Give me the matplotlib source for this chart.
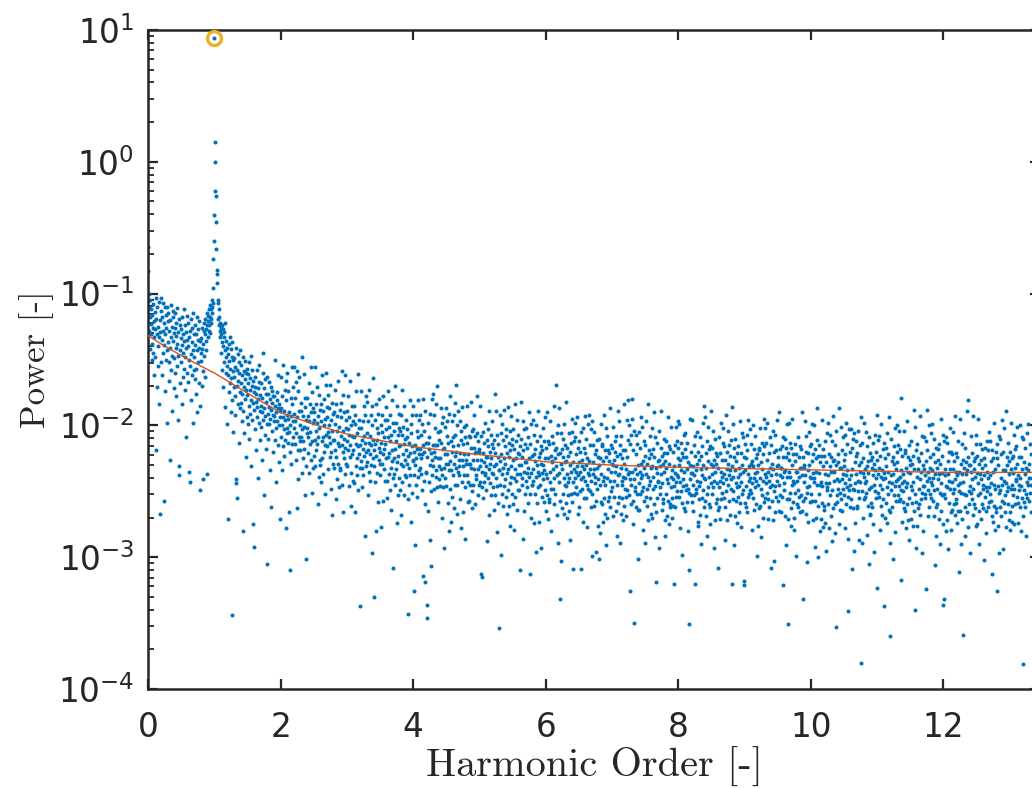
import numpy as np
import matplotlib
matplotlib.use("Agg")
import matplotlib.pyplot as plt
from matplotlib.ticker import LogLocator, NullFormatter, FixedLocator

# ---------------- data ----------------
# spectrum sampled every `harmonic_step` harmonic orders, starting at 0
harmonic_step = 0.005
# power in centi-decades below 1 :  power = 10 ** (-value / 100)
power_cdec = [
    65, 83, 100, 110, 128, 105, 118, 142, 123, 112, 131, 150, 116, 138, 126, 108, 145, 121, 162, 133,
    114, 127, 148, 103, 219, 119, 171, 131, 110, 155, 125, 140, 106, 133, 184, 120, 267, 129, 113, 152,
    103, 135, 118, 162, 107, 128, 145, 122, 257, 139, 110, 174, 131, 150, 116, 126, 198, 110, 143, 121,
    137, 115, 152, 128, 166, 120, 226, 141, 109, 133, 158, 125, 147, 189, 118, 136, 113, 172, 130, 149,
    126, 160, 115, 141, 178, 132, 122, 155, 138, 111, 147, 129, 196, 119, 231, 238, 143, 124, 168, 134,
    152, 127, 139, 184, 118, 163, 131, 145, 112, 157, 136, 173, 124, 148, 209, 129, 141, 117, 160, 135,
    140, 122, 167, 133, 235, 150, 243, 128, 155, 181, 119, 146, 137, 162, 126, 198, 143, 115, 158, 131,
    148, 165, 124, 139, 176, 131, 157, 118, 143, 190, 135, 152, 127, 168, 141, 121, 185, 136, 249, 145,
    151, 134, 170, 142, 126, 159, 241, 138, 128, 147, 122, 163, 131, 119, 143, 127, 136, 115, 237, 124,
    121, 133, 117, 128, 112, 124, 118, 130, 109, 122, 112, 119, 105, 115, 110, 107, 96, 74, 60, 40,
    -94, -15, 0, 22, 26, 46, 66, 82, 85, 92, 105, 107, 119, 112, 124, 118, 128, 122, 133, 126,
    131, 145, 124, 158, 137, 127, 171, 140, 133, 152, 129, 186, 143, 122, 160, 148, 136, 199, 141, 155,
    146, 162, 271, 138, 175, 151, 133, 168, 157, 190, 142, 164, 148, 181, 344, 137, 159, 205, 150, 171,
    163, 149, 178, 156, 192, 141, 244, 241, 170, 158, 255, 146, 184, 166, 152, 213, 160, 175, 143, 187,
    168, 183, 154, 197, 162, 176, 148, 189, 280, 171, 159, 206, 165, 180, 151, 224, 173, 160, 194, 157,
    177, 161, 199, 168, 185, 152, 210, 173, 164, 191, 147, 181, 231, 170, 158, 196, 183, 166, 275, 175,
    292, 188, 171, 203, 163, 182, 219, 176, 194, 158, 186, 172, 240, 180, 167, 198, 154, 189, 211, 177,
    185, 201, 168, 190, 226, 179, 160, 196, 145, 172, 253, 187, 165, 207, 193, 176, 218, 182, 163, 199,
    305, 191, 176, 210, 186, 167, 199, 234, 180, 195, 171, 188, 262, 183, 204, 174, 192, 220, 178, 197,
    193, 178, 211, 185, 150, 202, 190, 243, 181, 197, 175, 215, 187, 162, 200, 228, 184, 194, 271, 189,
    209, 187, 163, 200, 234, 178, 216, 194, 154, 203, 189, 223, 173, 196, 211, 181, 278, 166, 206, 192,
    202, 160, 213, 195, 174, 266, 190, 205, 310, 220, 200, 179, 229, 193, 214, 156, 184, 209, 197, 171,
    191, 202, 156, 214, 197, 179, 226, 167, 206, 263, 159, 194, 219, 174, 241, 189, 209, 163, 200, 212,
    219, 189, 209, 183, 236, 203, 148, 225, 193, 212, 161, 201, 218, 179, 253, 186, 196, 231, 301, 206,
    202, 179, 221, 193, 209, 168, 236, 197, 184, 214, 205, 156, 226, 190, 251, 212, 175, 198, 232, 187,
    196, 223, 190, 211, 231, 156, 204, 184, 219, 198, 214, 171, 260, 193, 209, 239, 177, 202, 188, 226,
    230, 184, 243, 197, 212, 162, 225, 209, 189, 237, 200, 180, 220, 252, 195, 215, 169, 207, 160, 186,
    194, 216, 177, 205, 233, 187, 209, 200, 224, 169, 213, 248, 196, 220, 183, 204, 268, 191, 229, 211,
    190, 232, 211, 173, 219, 199, 256, 224, 184, 204, 241, 193, 213, 229, 166, 216, 201, 247, 188, 234,
    232, 194, 208, 183, 245, 215, 159, 266, 177, 220, 204, 225, 190, 210, 162, 237, 217, 196, 229, 202,
    212, 189, 231, 203, 219, 178, 246, 207, 194, 224, 215, 166, 236, 200, 261, 222, 185, 208, 242, 197,
    219, 185, 244, 209, 199, 266, 192, 231, 214, 174, 225, 206, 238, 161, 216, 249, 196, 222, 202, 232,
    337, 215, 227, 202, 174, 232, 211, 247, 197, 218, 238, 185, 223, 208, 284, 192, 213, 231, 178, 220,
    228, 206, 182, 219, 253, 197, 235, 213, 173, 222, 208, 242, 192, 215, 230, 200, 297, 185, 225, 211,
    164, 219, 330, 231, 214, 196, 243, 184, 223, 280, 202, 211, 236, 191, 258, 206, 226, 180, 217, 229,
    220, 238, 200, 277, 213, 192, 229, 205, 257, 222, 178, 233, 209, 218, 196, 242, 214, 186, 225, 203,
    242, 196, 255, 209, 224, 174, 237, 221, 201, 249, 212, 192, 232, 264, 207, 227, 181, 219, 240, 198,
    308, 237, 204, 225, 245, 170, 218, 198, 233, 212, 228, 185, 274, 207, 223, 253, 191, 216, 202, 240,
    204, 249, 215, 192, 229, 268, 207, 243, 173, 222, 231, 201, 214, 253, 185, 226, 210, 238, 196, 219,
    239, 209, 229, 203, 256, 223, 343, 245, 213, 232, 181, 221, 238, 199, 273, 206, 216, 251, 192, 226,
    227, 185, 238, 220, 326, 291, 215, 230, 192, 245, 225, 204, 254, 218, 239, 181, 209, 234, 222, 196,
    218, 232, 192, 225, 207, 237, 222, 199, 249, 215, 314, 180, 220, 242, 204, 260, 319, 189, 213, 235,
    236, 224, 336, 346, 213, 265, 198, 243, 218, 209, 287, 230, 191, 250, 307, 221, 238, 180, 226, 215,
    176, 231, 192, 220, 248, 202, 224, 215, 239, 184, 234, 215, 247, 170, 225, 258, 205, 231, 211, 241,
    204, 246, 225, 187, 233, 213, 270, 238, 198, 218, 247, 194, 232, 217, 293, 201, 222, 240, 187, 229,
    246, 208, 222, 197, 259, 229, 213, 280, 191, 234, 227, 178, 248, 212, 273, 234, 197, 220, 254, 209,
    238, 216, 192, 229, 263, 207, 245, 223, 183, 232, 169, 220, 245, 200, 267, 215, 235, 189, 226, 238,
    231, 197, 256, 221, 211, 278, 204, 243, 226, 186, 231, 266, 214, 238, 201, 222, 286, 209, 247, 229,
    200, 226, 238, 213, 185, 243, 222, 258, 208, 229, 257, 209, 229, 245, 182, 232, 217, 263, 204, 250,
    226, 203, 245, 217, 233, 192, 260, 221, 208, 238, 220, 241, 206, 226, 178, 253, 233, 212, 245, 218,
    220, 231, 185, 243, 226, 208, 313, 315, 235, 247, 221, 255, 205, 228, 243, 213, 236, 198, 238, 224,
    231, 249, 211, 288, 224, 203, 240, 216, 268, 233, 189, 244, 220, 229, 207, 253, 225, 197, 236, 214,
    247, 217, 237, 211, 264, 231, 176, 253, 221, 240, 189, 229, 246, 207, 281, 214, 224, 259, 354, 234,
    234, 192, 245, 227, 206, 298, 222, 237, 199, 252, 232, 211, 261, 225, 246, 188, 216, 241, 229, 203,
    254, 208, 267, 221, 236, 186, 249, 233, 213, 261, 224, 204, 244, 276, 219, 239, 193, 231, 252, 210,
    215, 260, 226, 203, 240, 279, 218, 254, 184, 233, 242, 212, 225, 264, 196, 237, 221, 249, 207, 230,
    222, 249, 216, 237, 310, 182, 230, 210, 245, 224, 240, 197, 286, 219, 235, 265, 203, 228, 214, 252,
    228, 242, 202, 236, 217, 247, 232, 209, 259, 225, 239, 190, 313, 252, 214, 270, 236, 199, 223, 245,
    245, 233, 196, 242, 222, 274, 207, 252, 227, 218, 296, 239, 200, 259, 212, 230, 247, 189, 235, 224,
    238, 273, 221, 245, 208, 229, 293, 216, 254, 236, 219, 241, 202, 230, 258, 212, 234, 225, 249, 194,
    265, 217, 237, 253, 190, 240, 225, 271, 212, 258, 214, 256, 235, 197, 243, 223, 280, 248, 208, 228,
    227, 248, 213, 233, 185, 260, 240, 219, 252, 225, 169, 217, 231, 206, 268, 238, 222, 289, 200, 243,
    236, 187, 257, 221, 332, 303, 206, 229, 263, 218, 233, 210, 252, 224, 240, 199, 267, 228, 215, 245,
    246, 227, 259, 182, 237, 270, 217, 243, 223, 253, 240, 206, 265, 230, 220, 287, 213, 252, 235, 195,
    258, 205, 243, 228, 309, 212, 233, 251, 198, 240, 209, 235, 247, 222, 194, 252, 231, 267, 217, 238,
    228, 262, 212, 235, 250, 220, 241, 205, 309, 231, 248, 226, 202, 239, 273, 217, 255, 233, 193, 242,
    221, 230, 255, 210, 277, 225, 245, 199, 236, 248, 227, 238, 192, 250, 233, 215, 262, 203, 242, 299,
    197, 252, 228, 237, 215, 261, 233, 205, 244, 222, 239, 257, 219, 296, 232, 211, 248, 224, 276, 241,
    230, 210, 301, 282, 225, 245, 199, 237, 258, 216, 260, 214, 273, 227, 242, 192, 255, 239, 219, 267,
    245, 202, 291, 224, 240, 270, 208, 233, 219, 257, 227, 254, 221, 242, 262, 187, 235, 215, 250, 229,
    247, 217, 230, 269, 201, 242, 226, 254, 212, 235, 220, 265, 231, 208, 245, 284, 223, 259, 189, 238,
    197, 237, 254, 215, 289, 222, 232, 267, 208, 242, 255, 225, 245, 219, 272, 239, 184, 261, 229, 248,
    240, 219, 269, 233, 254, 196, 224, 249, 237, 211, 181, 200, 253, 235, 214, 241, 326, 245, 207, 260,
    180, 195, 235, 257, 219, 275, 241, 204, 350, 250, 233, 247, 207, 262, 222, 252, 237, 214, 264, 230,
    301, 244, 205, 264, 217, 235, 252, 194, 240, 229, 250, 238, 201, 247, 227, 279, 212, 257, 232, 223,
    289, 215, 254, 237, 197, 248, 229, 261, 184, 239, 272, 219, 245, 225, 255, 242, 208, 267, 232, 222,
    202, 270, 231, 218, 248, 239, 190, 260, 224, 285, 246, 209, 232, 266, 319, 236, 213, 255, 227, 243,
    242, 226, 293, 204, 247, 231, 252, 217, 237, 189, 264, 244, 223, 256, 229, 259, 221, 235, 210, 272,
    227, 284, 252, 212, 232, 269, 221, 241, 257, 194, 244, 229, 275, 216, 262, 218, 260, 239, 201, 247,
    255, 234, 270, 220, 241, 261, 320, 246, 231, 262, 215, 236, 254, 201, 243, 212, 238, 250, 225, 197,
    217, 239, 230, 254, 199, 243, 278, 226, 250, 213, 234, 298, 221, 259, 241, 224, 246, 207, 235, 263,
    218, 265, 206, 245, 249, 224, 233, 258, 213, 280, 228, 248, 310, 351, 251, 230, 241, 195, 253, 236,
    220, 258, 236, 196, 245, 231, 265, 215, 238, 253, 223, 320, 208, 248, 234, 251, 229, 205, 242, 276,
    273, 220, 246, 226, 256, 243, 209, 268, 233, 223, 290, 216, 255, 238, 198, 249, 230, 262, 185, 240,
    194, 257, 241, 221, 269, 232, 212, 252, 284, 227, 247, 201, 239, 260, 218, 262, 216, 275, 229, 244,
    189, 237, 217, 252, 231, 247, 204, 293, 226, 242, 272, 210, 235, 221, 259, 229, 256, 223, 244, 264,
    308, 232, 247, 209, 262, 242, 221, 271, 235, 256, 198, 226, 251, 239, 213, 244, 202, 255, 237, 216,
    287, 226, 262, 192, 241, 250, 220, 233, 272, 204, 245, 229, 257, 215, 238, 223, 268, 234, 211, 248,
    241, 186, 320, 231, 250, 199, 239, 256, 217, 291, 224, 234, 269, 210, 244, 257, 227, 247, 221, 274,
    254, 239, 216, 266, 232, 246, 197, 237, 259, 221, 277, 243, 206, 230, 252, 235, 249, 209, 321, 224,
    318, 214, 259, 234, 225, 262, 246, 207, 266, 219, 237, 254, 196, 242, 231, 252, 240, 203, 249, 229,
    214, 251, 227, 279, 244, 200, 255, 231, 240, 218, 264, 236, 208, 247, 225, 242, 260, 222, 299, 235,
    245, 230, 276, 217, 263, 219, 261, 240, 202, 248, 228, 285, 253, 213, 233, 270, 222, 242, 258, 195,
    216, 237, 255, 202, 244, 213, 239, 251, 226, 198, 256, 235, 271, 221, 242, 262, 209, 247, 232, 308,
    238, 215, 257, 229, 245, 204, 272, 233, 220, 250, 303, 246, 207, 266, 219, 237, 254, 196, 242, 231,
    230, 257, 224, 245, 265, 190, 238, 218, 253, 232, 232, 266, 216, 239, 254, 224, 321, 209, 249, 235,
    244, 210, 269, 234, 224, 291, 217, 256, 239, 199, 351, 221, 271, 235, 256, 198, 226, 251, 239, 213,
    263, 217, 276, 230, 245, 195, 258, 242, 222, 270, 244, 279, 227, 251, 214, 235, 299, 222, 260, 242,
    235, 249, 209, 262, 224, 254, 239, 216, 266, 232, 232, 253, 218, 238, 190, 265, 332, 224, 257, 230,
    232, 243, 197, 255, 238, 220, 267, 208, 247, 304, 251, 221, 234, 273, 205, 246, 230, 258, 216, 239,
    214, 240, 252, 227, 199, 257, 236, 272, 222, 243, 200, 240, 257, 218, 292, 225, 235, 270, 211, 245,
    187, 261, 223, 300, 236, 215, 252, 228, 280, 245, 271, 223, 243, 259, 196, 246, 231, 277, 218, 264,
    261, 223, 237, 212, 274, 244, 228, 295, 206, 249, 247, 198, 238, 260, 222, 278, 244, 207, 231, 253,
    224, 269, 235, 212, 249, 288, 227, 263, 193, 242, 226, 235, 260, 215, 282, 230, 353, 204, 241, 253,
    258, 228, 248, 222, 275, 242, 187, 264, 232, 251, 201, 256, 232, 241, 219, 265, 237, 209, 248, 226,
    253, 231, 207, 244, 278, 222, 260, 238, 198, 247, 234, 214, 254, 286, 341, 249, 203, 241, 262, 220,
    245, 203, 256, 238, 217, 309, 233, 248, 210, 263, 249, 206, 295, 228, 244, 274, 212, 237, 223, 261,
    221, 263, 242, 204, 250, 230, 287, 255, 215, 235, 243, 194, 380, 228, 289, 250, 213, 236, 270, 225,
    239, 256, 198, 244, 233, 254, 242, 205, 251, 231, 283, 216, 261, 236, 227, 305, 248, 209, 268, 221,
    267, 247, 226, 259, 232, 262, 224, 238, 213, 275, 245, 229, 296, 207, 250, 234, 255, 220, 240, 192,
    226, 323, 211, 251, 237, 254, 232, 208, 245, 279, 223, 261, 239, 199, 248, 234, 268, 218, 241, 256,
    337, 213, 236, 270, 225, 240, 217, 259, 231, 247, 206, 274, 235, 222, 252, 243, 194, 264, 360, 289,
    266, 238, 210, 249, 227, 244, 262, 224, 301, 237, 216, 253, 229, 281, 246, 202, 257, 233, 242, 220,
    200, 228, 253, 241, 215, 246, 204, 257, 239, 218, 256, 234, 249, 179, 317, 244, 223, 273, 237, 258,
    250, 204, 242, 263, 221, 265, 219, 278, 232, 247, 197, 260, 244, 224, 272, 235, 215, 255, 287, 230,
    226, 236, 271, 212, 246, 259, 229, 249, 223, 276, 243, 188, 265, 233, 252, 201, 340, 258, 219, 293,
    276, 214, 239, 225, 263, 233, 260, 227, 248, 268, 193, 241, 221, 256, 235, 251, 208, 297, 230, 246,
    280, 246, 209, 233, 255, 238, 252, 212, 324, 227, 188, 242, 219, 269, 235, 249, 200, 240, 262, 224,
    232, 252, 206, 243, 255, 234, 245, 199, 257, 240, 222, 269, 210, 249, 306, 228, 237, 262, 217, 284,
    248, 232, 260, 218, 241, 226, 271, 237, 214, 251, 290, 229, 265, 195, 244, 253, 223, 236, 275, 207,
    336, 332, 212, 252, 238, 255, 233, 209, 246, 280, 247, 213, 272, 237, 227, 294, 220, 259, 242, 202,
    248, 233, 279, 220, 266, 222, 264, 243, 205, 251, 233, 260, 227, 248, 268, 193, 241, 221, 256, 235,
    259, 238, 274, 224, 245, 265, 212, 250, 235, 311, 244, 195, 265, 229, 290, 251, 214, 237, 271, 226,
    359, 243, 206, 252, 232, 284, 217, 262, 237, 228, 253, 234, 266, 189, 181, 277, 224, 250, 230, 260,
    246, 230, 297, 208, 251, 235, 256, 221, 241, 193, 268, 248, 227, 260, 233, 263, 225, 239, 214, 276,
    207, 275, 236, 223, 253, 244, 195, 265, 229, 290, 251, 214, 237, 271, 226, 241, 218, 260, 232, 248,
    245, 263, 225, 302, 238, 217, 254, 230, 282, 247, 265, 212, 250, 235, 262, 219, 240, 258, 205, 247,
    238, 252, 212, 244, 227, 257, 313, 219, 269, 235, 273, 225, 245, 261, 198, 248, 233, 279, 220, 266,
    263, 225, 326, 214, 276, 246, 230, 297, 208, 251, 262, 249, 210, 269, 222, 240, 257, 196, 245, 234,
    294, 220, 259, 242, 202, 253, 234, 266, 189, 244, 277, 224, 250, 230, 260, 247, 213, 272, 237, 227,
    266, 220, 279, 233, 248, 198, 261, 245, 225, 273, 253, 223, 236, 275, 207, 248, 232, 260, 218, 241,
    216, 242, 254, 229, 201, 259, 238, 274, 224, 245, 249, 200, 240, 262, 224, 280, 246, 209, 233, 255,
    381, 269, 210, 249, 258, 228, 237, 262, 217, 284, 232, 252, 206, 243, 255, 234, 245, 199, 257, 240,
    229, 251, 214, 240, 266, 222, 245,
]

# highlighted fundamental
highlight_order = [1.0]
highlight_power = [8.7]

# fitted trend line
fit_order = [0.0, 0.25, 0.5, 0.75, 1.0, 1.25, 1.5, 1.75, 2.0, 2.5, 3.0, 3.5, 4.0,
             5.0, 6.0, 7.0, 8.0, 9.0, 10.0, 11.0, 12.0, 13.4]
fit_power = [0.048, 0.040, 0.034, 0.029, 0.025, 0.021, 0.0176, 0.0148, 0.0125,
             0.0102, 0.0086, 0.0077, 0.0069, 0.0060, 0.0053, 0.0050, 0.0048,
             0.0047, 0.0046, 0.0045, 0.0044, 0.0044]

x_ticks = [0, 2, 4, 6, 8, 10, 12]
y_ticks = [1e-4, 1e-3, 1e-2, 1e-1, 1e0, 1e1]
x_label = "Harmonic Order [-]"
y_label = "Power [-]"

# ---------------- drawing ----------------
power = 10.0 ** (-np.asarray(power_cdec, dtype=float) / 100.0)
harmonic_order = np.arange(power.size) * harmonic_step

W, H = 1032, 788
fig = plt.figure(figsize=(W / 100, H / 100), dpi=100)
ax = fig.add_axes([148 / W, 1 - 689 / H, 892 / W, 659 / H])

blue = "#0072BD"
ax.plot(harmonic_order, power, linestyle="none", marker="o", ms=2.9,
        mec="none", mfc=blue, zorder=2)
ax.plot(fit_order, fit_power, color="#D95319", lw=1.0, zorder=3)
ax.plot(highlight_order, highlight_power, linestyle="none", marker="o", ms=10,
        mfc="none", mec="#EDB120", mew=2.4, zorder=4)

ax.set_yscale("log")
ax.set_xlim(0, 13.46)
ax.set_ylim(1e-4, 1e1)
ax.xaxis.set_major_locator(FixedLocator(x_ticks))
ax.yaxis.set_major_locator(FixedLocator(y_ticks))
ax.yaxis.set_minor_locator(LogLocator(base=10, subs=np.arange(2, 10), numticks=100))
ax.yaxis.set_minor_formatter(NullFormatter())

dark = "#262626"
for sp in ax.spines.values():
    sp.set_linewidth(1.8)
    sp.set_color(dark)
ax.tick_params(which="both", direction="in", top=True, right=True, color=dark,
               labelcolor=dark, labelsize=23.5)
ax.tick_params(which="major", length=7, width=1.6)
ax.tick_params(which="minor", length=4, width=1.3)
ax.tick_params(axis="x", pad=16)
ax.tick_params(axis="y", pad=10)

ax.set_xlabel(x_label, fontfamily="cmr10", fontsize=29, color=dark, labelpad=2)
ax.set_ylabel(y_label, fontfamily="cmr10", fontsize=25, color=dark, labelpad=3)

fig.savefig("out.png", dpi=100)
